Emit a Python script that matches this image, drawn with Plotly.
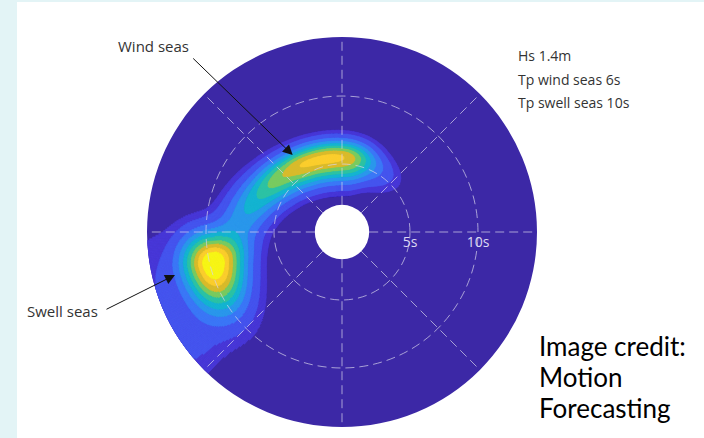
import numpy as np
import plotly.graph_objects as go

# Directional wave spectrum: period on the radius, compass direction on the angle.
# Each partition is a smooth lump in (period, direction) space.
PART_NAME = ["swell core", "swell tail", "swell outer",
             "wind 1", "wind 2", "wind 3", "wind 4", "wind 5", "wind 6", "wind 7"]
PEAK_PERIOD = [9.8, 13.8, 14.3, 5.45, 5.5, 5.75, 6.2, 6.9, 7.8, 5.2]   # s
PEAK_DIR = [256.5, 234.0, 253.0, 8.0, -12.0, -32.0, -52.0, -70.0, -87.0, 30.0]
SPREAD_T_LO = [1.55, 2.0, 1.2, 1.2, 1.2, 1.2, 1.2, 1.2, 1.3, 1.0]
SPREAD_T_HI = [1.55, 2.0, 2.0, 0.85, 0.85, 0.85, 0.9, 1.0, 1.1, 0.8]
SPREAD_DIR_CCW = [14.5, 8.0, 13.0, 12.0, 12.0, 12.0, 12.0, 12.0, 12.0, 14.0]
SPREAD_DIR_CW = [8.8, 8.0, 13.0, 12.0, 12.0, 12.0, 12.0, 12.0, 12.0, 14.0]
PEAK_ENERGY = [1.0, 0.1, 0.08, 0.55, 0.56, 0.56, 0.45, 0.3, 0.22, 0.15]

# Filled contour levels (relative energy) and their colours (parula)
LEVELS = [0.05, 0.1, 0.2, 0.3, 0.4, 0.5, 0.6, 0.7, 0.8, 0.9]
COLORS = ["#3c28a6", "#4838d8", "#4555ef", "#3b78f7", "#2a99eb", "#14b5d0",
          "#2ec3a3", "#7ccb5e", "#dcbb2a", "#fcce2e", "#f7f615"]

RING_TICKS = [5, 10]
RING_LABELS = ["5s", "10s"]
PERIOD_MIN, PERIOD_MAX = 2.0, 14.34
SPOKE_STEP = 45

INFO_LINES = ["Hs 1.4m", "Tp wind seas 6s", "Tp swell seas 10s"]
CREDIT_LINES = ["Image credit:", "Motion", "Forecasting"]

# ---- evaluate the spectrum on a fine polar grid ----
D_TH, D_T = 0.5, 0.02
theta_c = np.arange(0, 360, D_TH) + D_TH / 2
t_edges = np.arange(PERIOD_MIN, PERIOD_MAX + D_T, D_T)
t_edges[-1] = PERIOD_MAX
t_c = (t_edges[:-1] + t_edges[1:]) / 2
TT, TH = np.meshgrid(t_c, theta_c)
energy = np.zeros_like(TT)
for tp, dp, slo, shi, sccw, scw, a in zip(PEAK_PERIOD, PEAK_DIR, SPREAD_T_LO, SPREAD_T_HI,
                                          SPREAD_DIR_CCW, SPREAD_DIR_CW, PEAK_ENERGY):
    dt = TT - tp
    st = np.where(dt < 0, slo, shi)
    dd = (TH - dp + 180.0) % 360.0 - 180.0
    sd = np.where(dd < 0, sccw, scw)
    energy += a * np.exp(-0.5 * (dt / st) ** 2 - 0.5 * (dd / sd) ** 2)

fig = go.Figure()

# one bar trace per filled level, painted from the lowest to the highest
for k, lev in enumerate(LEVELS):
    th_list, base_list, r_list = [], [], []
    mask = energy >= lev
    for j, th in enumerate(theta_c):
        m = np.concatenate([[0], mask[j].astype(int), [0]])
        d = np.diff(m)
        starts = np.where(d == 1)[0]
        ends = np.where(d == -1)[0]
        for s, e in zip(starts, ends):
            th_list.append(th)
            base_list.append(t_edges[s])
            r_list.append(t_edges[e] - t_edges[s])
    col = COLORS[k + 1]
    fig.add_trace(go.Barpolar(
        theta=th_list, r=r_list, base=base_list, width=D_TH,
        marker=dict(color=col, line=dict(color=col, width=0.6)),
        hoverinfo="skip", subplot="polar", showlegend=False))

# empty trace so the grid overlay subplot is drawn
fig.add_trace(go.Scatterpolar(r=[], theta=[], subplot="polar2", showlegend=False))

dom_x = [0.2088, 0.7628]
dom_y = [0.0251, 0.9155]
hole = PERIOD_MIN / PERIOD_MAX
grid_col = "rgba(215,212,235,0.7)"

fig.update_layout(
    width=704, height=438, margin=dict(l=0, r=0, t=0, b=0),
    paper_bgcolor="white", plot_bgcolor="white", showlegend=False,
    polar=dict(
        domain=dict(x=dom_x, y=dom_y), hole=hole, bgcolor=COLORS[0], barmode="overlay",
        radialaxis=dict(range=[PERIOD_MIN, PERIOD_MAX], visible=True, showgrid=False,
                        showline=False, showticklabels=False, ticks=""),
        angularaxis=dict(rotation=90, direction="clockwise", showgrid=False,
                         showline=False, showticklabels=False, ticks=""),
    ),
    polar2=dict(
        domain=dict(x=dom_x, y=dom_y), hole=hole, bgcolor="rgba(0,0,0,0)",
        radialaxis=dict(range=[PERIOD_MIN, PERIOD_MAX], tickvals=RING_TICKS,
                        ticktext=RING_LABELS, showgrid=True, gridcolor=grid_col,
                        griddash="9px,5px", gridwidth=1, showline=False, ticks="",
                        angle=0, tickangle=0, side="clockwise",
                        tickfont=dict(family="Open Sans", size=14, color="#dcd8f2")),
        angularaxis=dict(rotation=90, direction="clockwise", dtick=SPOKE_STEP,
                         showgrid=True, gridcolor=grid_col, griddash="9px,5px",
                         gridwidth=1, showline=False, showticklabels=False, ticks=""),
    ),
    shapes=[
        dict(type="rect", xref="paper", yref="paper", x0=0, x1=17 / 704, y0=0, y1=1,
             fillcolor="#e3f4f6", line=dict(width=0), layer="below"),
        dict(type="rect", xref="paper", yref="paper", x0=0, x1=1, y0=1 - 2 / 438, y1=1,
             fillcolor="#e3f4f6", line=dict(width=0), layer="below"),
    ],
)

W, H = 704.0, 438.0
def px(x, y):
    return x / W, 1 - y / H

ann = []
label_font = dict(family="Open Sans", size=15, color="#333333")
x, y = px(153.5, 46.5)
ann.append(dict(x=x, y=y, xref="paper", yref="paper", text="Wind seas", showarrow=False,
                xanchor="center", yanchor="middle", font=label_font))
x, y = px(62.8, 311)
ann.append(dict(x=x, y=y, xref="paper", yref="paper", text="Swell seas", showarrow=False,
                xanchor="center", yanchor="middle", font=label_font))
# arrows pointing at the two partitions
x, y = px(292.7, 155)
ann.append(dict(x=x, y=y, xref="paper", yref="paper", text="", showarrow=True,
                ax=-101, ay=-98, arrowhead=2, arrowsize=2, arrowwidth=1,
                arrowcolor="#111111"))
x, y = px(175, 275)
ann.append(dict(x=x, y=y, xref="paper", yref="paper", text="", showarrow=True,
                ax=-70, ay=35, arrowhead=2, arrowsize=2, arrowwidth=1,
                arrowcolor="#111111"))

for i, line in enumerate(INFO_LINES):
    x, y = px(516, 55.8 + 23.3 * i)
    ann.append(dict(x=x, y=y, xref="paper", yref="paper", text=line, showarrow=False,
                    xanchor="left", yanchor="middle",
                    font=dict(family="Open Sans", size=14, color="#333333")))
for i, line in enumerate(CREDIT_LINES):
    x, y = px(537, 346 + 30.8 * i)
    ann.append(dict(x=x, y=y, xref="paper", yref="paper", text=line, showarrow=False,
                    xanchor="left", yanchor="middle",
                    font=dict(family="Lato", size=26, color="#000000")))
fig.update_layout(annotations=ann)

fig.write_html("out.html")
